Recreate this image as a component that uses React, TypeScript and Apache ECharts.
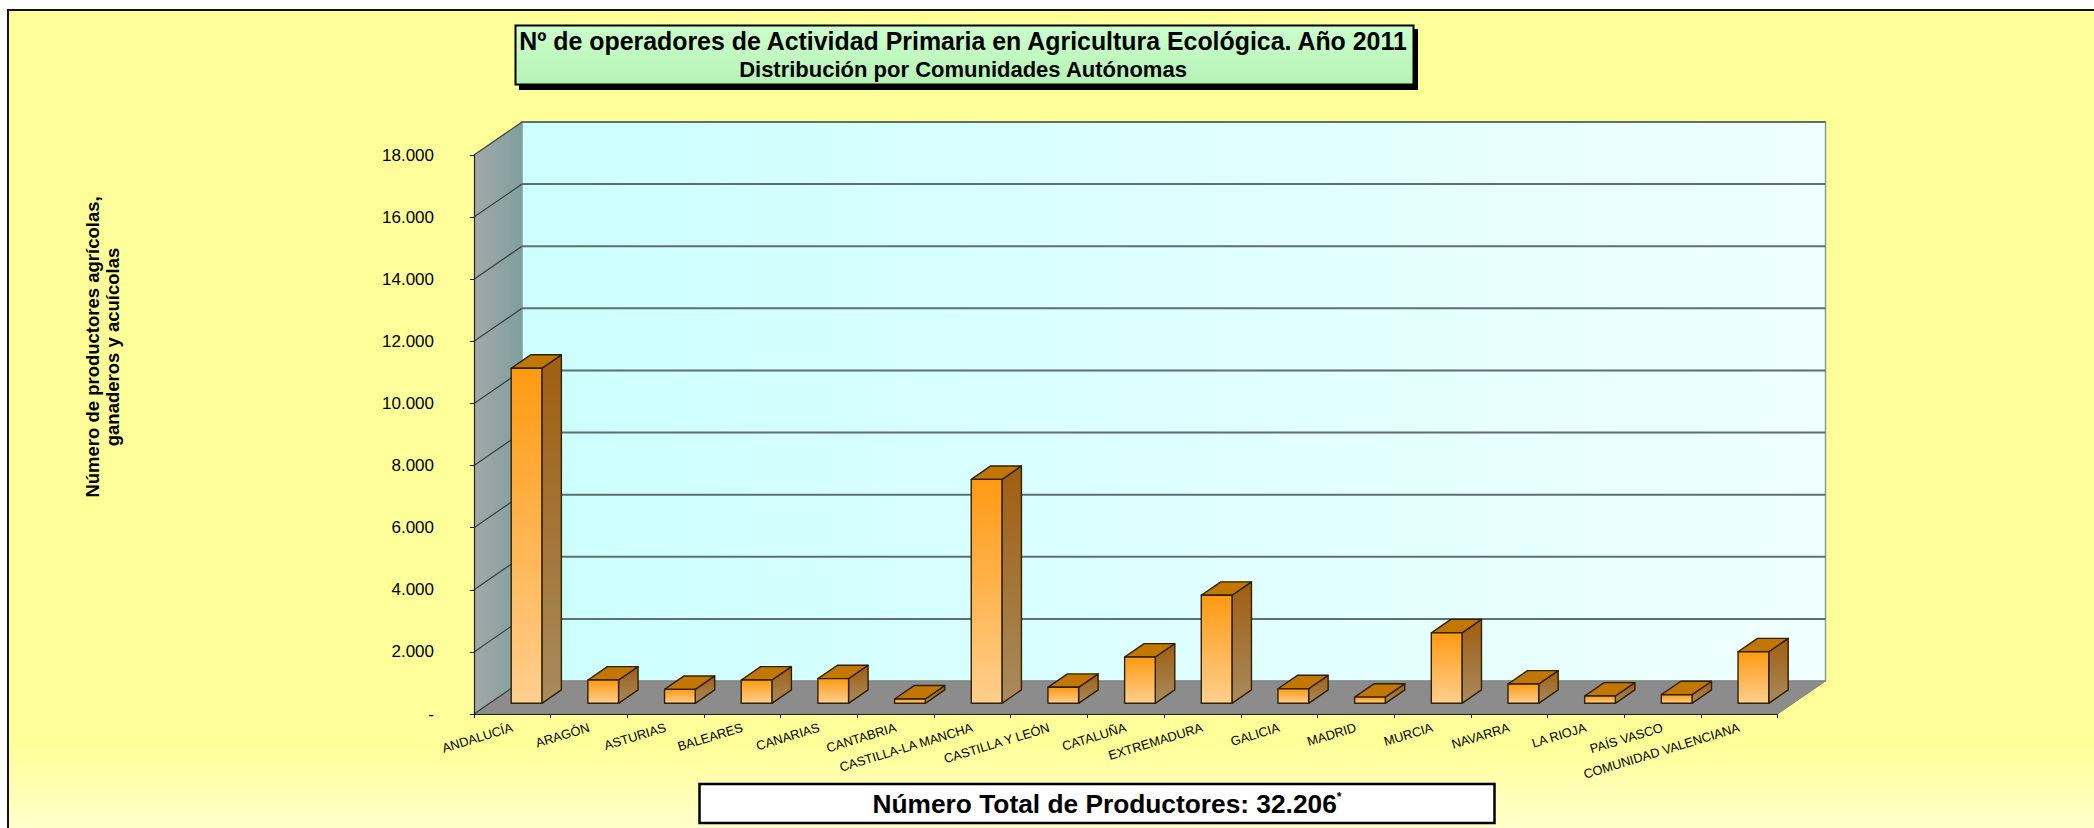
import React, { useEffect, useRef } from "react";
import * as echarts from "echarts";

const FONT = '"Liberation Sans", Arial, sans-serif';

const categories = [
  "ANDALUCÍA", "ARAGÓN", "ASTURIAS", "BALEARES", "CANARIAS", "CANTABRIA",
  "CASTILLA-LA MANCHA", "CASTILLA Y LEÓN", "CATALUÑA", "EXTREMADURA", "GALICIA",
  "MADRID", "MURCIA", "NAVARRA", "LA RIOJA", "PAÍS VASCO", "COMUNIDAD VALENCIANA",
];
const producers = [
  10790, 750, 450, 750, 793, 140, 7212, 515, 1490, 3480, 470, 200, 2270, 620, 235, 277, 1660,
];
const yTicks = [0, 2000, 4000, 6000, 8000, 10000, 12000, 14000, 16000, 18000];
const yTickLabels = ["-", "2.000", "4.000", "6.000", "8.000", "10.000", "12.000", "14.000", "16.000", "18.000"];
const mainTitle = "Nº de operadores de Actividad Primaria en Agricultura Ecológica. Año 2011";
const subTitle = "Distribución por Comunidades Autónomas";
const yAxisTitle = "Número de productores agrícolas,\nganaderos y acuícolas";
const totalText = "Número Total de Productores: 32.206";

const WALL_DX = 48;
const WALL_DY = -33;
const BAR_DX = 19.5;
const BAR_DY = -13.4;
const BAR_OFFSET_X = 14.2;
const BAR_OFFSET_Y = -10.7;

const grad = (x2: number, y2: number, from: string, to: string) =>
  new echarts.graphic.LinearGradient(0, 0, x2, y2, [
    { offset: 0, color: from },
    { offset: 1, color: to },
  ]);

function renderScene(_params: any, api: any) {
  const n = categories.length;
  const [x0, y0] = api.coord([0, 0]);
  const band = api.size([1, 0])[0];
  const x1 = x0 - band / 2;
  const x2 = x1 + band * n;
  const top = api.coord([0, yTicks[yTicks.length - 1]])[1];
  const children: any[] = [
    {
      type: "polygon",
      shape: { points: [[x1 + WALL_DX, top + WALL_DY], [x2 + WALL_DX, top + WALL_DY], [x2 + WALL_DX, y0 + WALL_DY], [x1 + WALL_DX, y0 + WALL_DY]] },
      style: { fill: grad(1, 0, "#CCFFFF", "#F0FFFF"), stroke: "#8a9a9a", lineWidth: 1.5 },
    },
    {
      type: "polygon",
      shape: { points: [[x1, top], [x1 + WALL_DX, top + WALL_DY], [x1 + WALL_DX, y0 + WALL_DY], [x1, y0]] },
      style: { fill: grad(1, 0, "#A3A8A8", "#7F9F9F") },
    },
    {
      type: "polygon",
      shape: { points: [[x1, y0], [x1 + WALL_DX, y0 + WALL_DY], [x2 + WALL_DX, y0 + WALL_DY], [x2, y0]] },
      style: { fill: "#8C8C8C", stroke: "#808080", lineWidth: 1 },
    },
  ];
  yTicks.forEach((t) => {
    const y = api.coord([0, t])[1];
    if (t !== 0) {
      children.push({
        type: "line",
        shape: { x1: x1 + WALL_DX, y1: y + WALL_DY, x2: x2 + WALL_DX, y2: y + WALL_DY },
        style: { stroke: "#5F6F6F", lineWidth: 2 },
      });
    }
    children.push({
      type: "line",
      shape: { x1, y1: y, x2: x1 + WALL_DX, y2: y + WALL_DY },
      style: { stroke: "#36403F", lineWidth: 1.2 },
    });
  });
  return { type: "group", children };
}

function renderBar(_params: any, api: any) {
  const i = api.value(0);
  const v = api.value(1);
  const band = api.size([1, 0])[0];
  const w = band * 0.4;
  const base = api.coord([i, 0]);
  const head = api.coord([i, v]);
  const cx = base[0] + BAR_OFFSET_X;
  const l = cx - w / 2;
  const r = cx + w / 2;
  const b = base[1] + BAR_OFFSET_Y;
  const t = head[1] + BAR_OFFSET_Y;
  const edge = { stroke: "#2E2000", lineWidth: 1.4, lineJoin: "round" };
  return {
    type: "group",
    children: [
      {
        type: "polygon",
        shape: { points: [[r, t], [r + BAR_DX, t + BAR_DY], [r + BAR_DX, b + BAR_DY], [r, b]] },
        style: { fill: grad(0, 1, "#A05E10", "#A88B5E"), ...edge },
      },
      {
        type: "polygon",
        shape: { points: [[l, t], [l + BAR_DX, t + BAR_DY], [r + BAR_DX, t + BAR_DY], [r, t]] },
        style: { fill: "#C27700", ...edge },
      },
      {
        type: "polygon",
        shape: { points: [[l, t], [r, t], [r, b], [l, b]] },
        style: { fill: grad(0, 1, "#FF9A12", "#FFCF8E"), ...edge },
      },
    ],
  };
}

export default function App() {
  const ref = useRef<HTMLDivElement | null>(null);

  useEffect(() => {
    const chart = echarts.init(ref.current!, null, { renderer: "svg" });
    chart.setOption({
      animation: false,
      backgroundColor: "#FFFFFF",
      textStyle: { fontFamily: FONT },
      title: {
        text: mainTitle,
        subtext: subTitle,
        left: 958,
        top: 22,
        textAlign: "center",
        itemGap: 2,
        textStyle: { fontFamily: FONT, fontWeight: "bold", fontSize: 24.9, color: "#000", lineHeight: 28 },
        subtextStyle: { fontFamily: FONT, fontWeight: "bold", fontSize: 22, color: "#000", lineHeight: 24 },
      },
      grid: { left: 474, top: 155, width: 1303.5, height: 559, containLabel: false },
      xAxis: {
        type: "category",
        data: categories,
        z: 10,
        axisLine: { lineStyle: { color: "#222", width: 1.2 } },
        axisTick: { show: true, length: 4, alignWithLabel: false, lineStyle: { color: "#222" } },
        axisLabel: {
          interval: 0,
          rotate: 17,
          margin: 13,
          fontFamily: FONT,
          fontSize: 12.8,
          color: "#000",
          hideOverlap: false,
        },
      },
      yAxis: {
        type: "value",
        min: 0,
        max: 18000,
        interval: 2000,
        z: 10,
        splitLine: { show: false },
        axisLine: { show: true, lineStyle: { color: "#222", width: 1.2 } },
        axisTick: { show: true, length: 4, lineStyle: { color: "#222" } },
        axisLabel: {
          margin: 40,
          fontFamily: FONT,
          fontSize: 17,
          color: "#000",
          formatter: (v: number) => yTickLabels[yTicks.indexOf(v)],
        },
      },
      graphic: [
        {
          type: "rect",
          z: -10,
          silent: true,
          shape: { x: 9, y: 11, width: 2085, height: 817 },
          style: {
            fill: new echarts.graphic.LinearGradient(0, 0, 0, 1, [
              { offset: 0, color: "#FFFF99" },
              { offset: 0.9, color: "#FFFF99" },
              { offset: 1, color: "#FFFFCC" },
            ]),
          },
        },
        { type: "line", z: -9, shape: { x1: 8, y1: 10, x2: 2094, y2: 10 }, style: { stroke: "#111", lineWidth: 2 } },
        { type: "line", z: -9, shape: { x1: 8, y1: 9, x2: 8, y2: 828 }, style: { stroke: "#111", lineWidth: 2 } },
        { type: "rect", z: -8, shape: { x: 519, y: 29, width: 899, height: 61 }, style: { fill: "#000" } },
        {
          type: "rect",
          z: -7,
          shape: { x: 515.5, y: 25.5, width: 898, height: 59 },
          style: { fill: grad(0, 1, "#CCFFCC", "#B5F2B5"), stroke: "#000", lineWidth: 2 },
        },
        {
          type: "text",
          z: 5,
          x: 102,
          y: 347,
          rotation: Math.PI / 2,
          style: {
            text: yAxisTitle,
            font: `bold 18.5px ${FONT}`,
            fill: "#000",
            align: "center",
            verticalAlign: "middle",
            lineHeight: 20,
          },
        },
        {
          type: "rect",
          z: -7,
          shape: { x: 699.5, y: 784, width: 795, height: 39 },
          style: { fill: "#FFFFFF", stroke: "#000", lineWidth: 2.5 },
        },
        {
          type: "text",
          z: 5,
          x: 1107,
          y: 804,
          style: {
            text: `{a|${totalText}}{b|*}`,
            align: "center",
            verticalAlign: "middle",
            rich: {
              a: { font: `bold 26.3px ${FONT}`, fill: "#000" },
              b: { font: `bold 12px ${FONT}`, fill: "#000", verticalAlign: "top", padding: [0, 0, 10, 0] },
            },
          },
        },
      ],
      series: [
        {
          type: "custom",
          name: "Escena",
          z: 1,
          silent: true,
          clip: false,
          renderItem: renderScene,
          data: [[0, 0]],
          encode: { x: 0, y: 1 },
        },
        {
          type: "custom",
          name: "Número de productores",
          z: 2,
          clip: false,
          renderItem: renderBar,
          data: producers.map((v, i) => [i, v]),
          encode: { x: 0, y: 1 },
        },
      ],
    });
    return () => chart.dispose();
  }, []);

  return <div ref={ref} style={{ position: "absolute", left: 0, top: 0, width: 2094, height: 828 }} />;
}
